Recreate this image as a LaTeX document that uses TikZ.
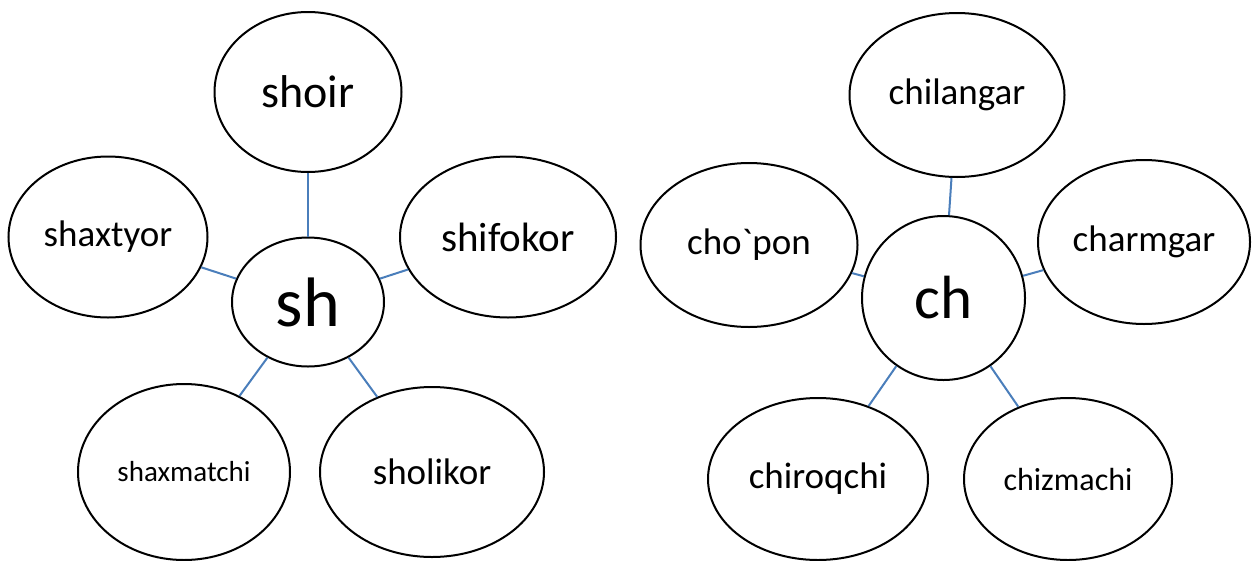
\documentclass[tikz,border=0pt]{standalone}
\usepackage{fontspec}
\setmainfont{Carlito}
\newfontfamily\rawfont{Carlito}[Ligatures=TeXOff]
\usetikzlibrary{shapes.geometric}
\definecolor{linkblue}{HTML}{4A7EBB}
\tikzset{
  bubble/.style={ellipse, draw=black, line width=2pt, fill=white, inner sep=0pt},
  link/.style={draw=linkblue, line width=2pt}
}
\begin{document}
\begin{tikzpicture}[x=1pt,y=1pt]
\useasboundingbox (0,0) rectangle (1252,-560);
% left cluster
\node[bubble, minimum width=152, minimum height=129, font=\fontsize{70}{80}\selectfont] (sh) at (308,-302) {sh};
\node[bubble, minimum width=187, minimum height=160, font=\fontsize{46}{52}\selectfont] (shoir) at (308,-92) {shoir};
\node[bubble, minimum width=199, minimum height=161, font=\fontsize{37}{42}\selectfont] (shaxtyor) at (108,-237) {shaxtyor};
\node[bubble, minimum width=216, minimum height=161, font=\fontsize{41}{46}\selectfont] (shifokor) at (508,-237) {shifokor};
\node[bubble, minimum width=212, minimum height=176, font=\fontsize{29}{34}\selectfont] (shaxmatchi) at (184,-472) {shaxmatchi};
\node[bubble, minimum width=224, minimum height=170, font=\fontsize{37}{42}\selectfont] (sholikor) at (432,-472) {sholikor};
% right cluster
\node[bubble, minimum width=163, minimum height=164, font=\fontsize{61}{70}\selectfont] (ch) at (943.5,-298) {ch};
\node[bubble, minimum width=215, minimum height=164, font=\fontsize{37}{42}\selectfont] (chilangar) at (957,-95) {chilangar};
\node[bubble, minimum width=217, minimum height=164, font=\rawfont\fontsize{37}{42}\selectfont] (chopon) at (749,-245) {cho`pon};
\node[bubble, minimum width=212, minimum height=164, font=\fontsize{37}{42}\selectfont] (charmgar) at (1144,-242) {charmgar};
\node[bubble, minimum width=220, minimum height=162, font=\fontsize{37}{42}\selectfont] (chiroqchi) at (818,-479) {chiroqchi};
\node[bubble, minimum width=208, minimum height=162, font=\fontsize{32}{37}\selectfont] (chizmachi) at (1068,-479) {chizmachi};
% connectors
\draw[link] (shoir) -- (sh);
\draw[link] (shaxtyor) -- (sh);
\draw[link] (shifokor) -- (sh);
\draw[link] (shaxmatchi) -- (sh);
\draw[link] (sholikor) -- (sh);
\draw[link] (chilangar) -- (ch);
\draw[link] (chopon) -- (ch);
\draw[link] (charmgar) -- (ch);
\draw[link] (chiroqchi) -- (ch);
\draw[link] (chizmachi) -- (ch);
\end{tikzpicture}
\end{document}
